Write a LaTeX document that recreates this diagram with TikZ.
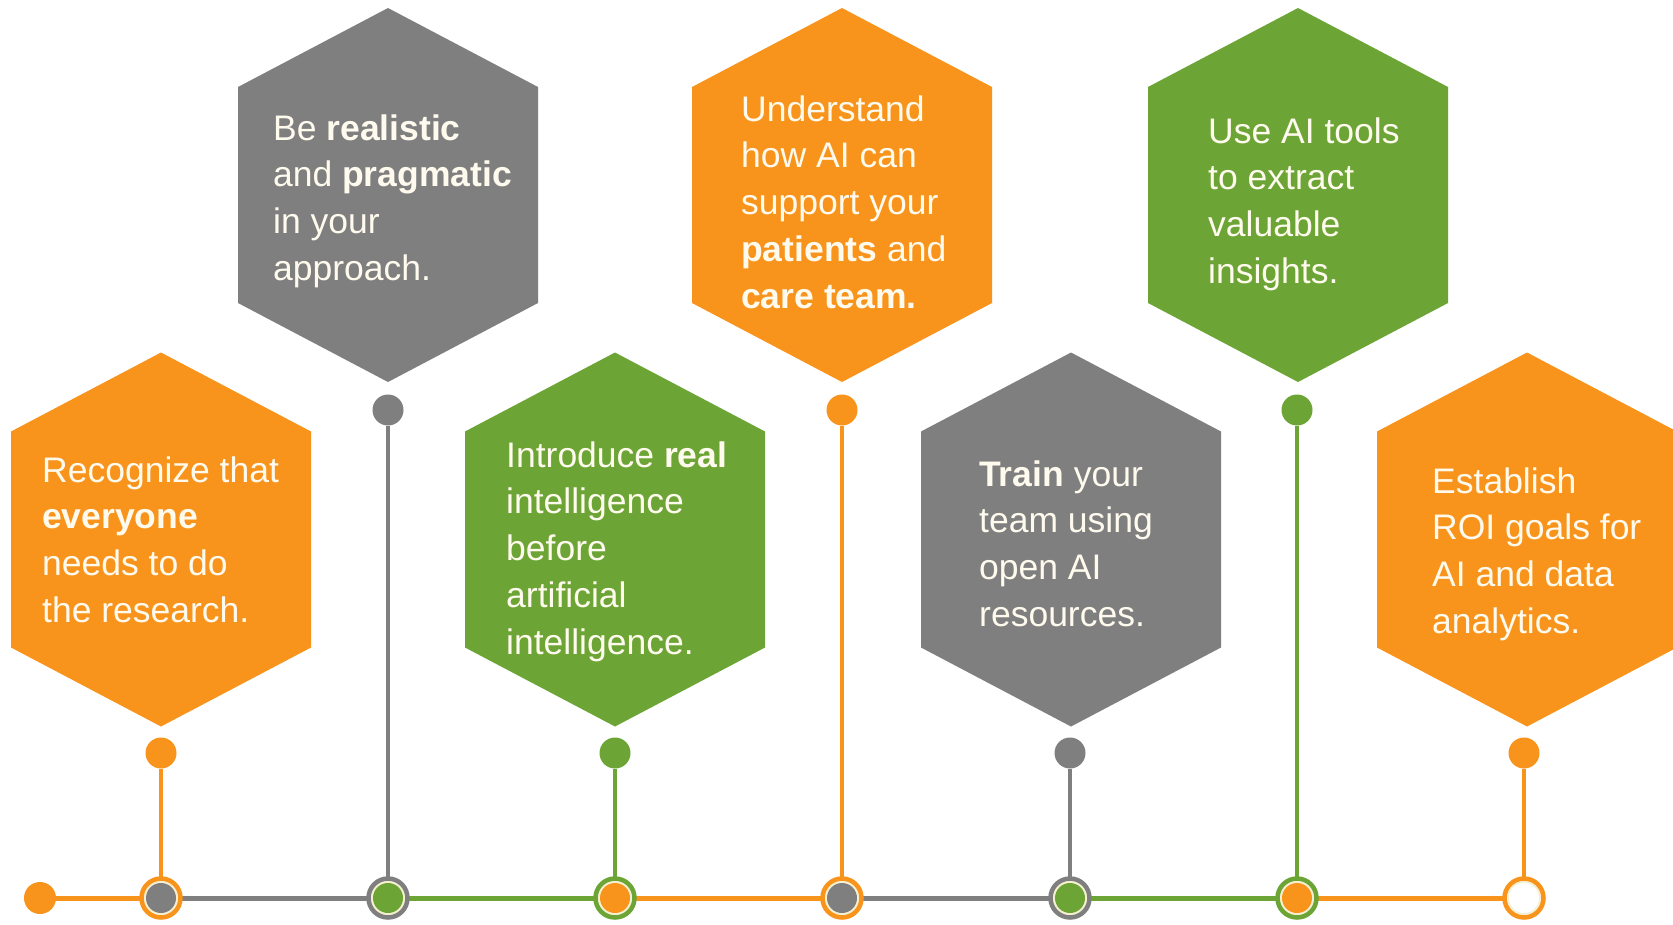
\documentclass[tikz,border=0pt]{standalone}
\usepackage{fontspec}
\setmainfont{Liberation Sans}

\definecolor{hexorange}{HTML}{F8941C}
\definecolor{hexgreen}{HTML}{6CA535}
\definecolor{hexgray}{HTML}{7F7F7F}
\definecolor{ringcream}{HTML}{F6F0D2}
\definecolor{hextextc}{HTML}{FFFAEE}

% fixed-height strut so every text block hangs from its first baseline
\newcommand\firststrut{\rule{0pt}{30pt}}

% stretched hexagon centred on a named coordinate
\newcommand\hexagonat[2]{%
  \fill[#2] ([shift={(0,-187)}]#1) -- ([shift={(150,-108)}]#1) --
    ([shift={(150,108)}]#1) -- ([shift={(0,187)}]#1) --
    ([shift={(-150,108)}]#1) -- ([shift={(-150,-108)}]#1) -- cycle;}

\begin{document}
\begin{tikzpicture}[x=1pt,y=-1pt,
  hextext/.style={anchor=north west, inner sep=0pt, text=hextextc, align=left,
    font=\fontsize{35.5}{46.7}\selectfont},
  pindot/.style={circle, inner sep=0pt, minimum size=31pt, fill=#1},
  startdot/.style={circle, inner sep=0pt, minimum size=32pt, fill=#1},
  ringdot/.style 2 args={circle, inner sep=0pt, minimum size=39pt, draw=#1,
    line width=4.5pt, fill=ringcream,
    path picture={\fill[#2] (path picture bounding box.center) circle[radius=15pt];}},
  stem/.style={line width=3.5pt, #1},
  track/.style={line width=5pt, #1}]

\useasboundingbox (0,0) rectangle (1673,924);
\fill[white] (0,0) rectangle (1673,924);

% hexagon centres
\coordinate (h1) at (161,539.5);
\coordinate (h2) at (388,195);
\coordinate (h3) at (615,539.5);
\coordinate (h4) at (842,195);
\coordinate (h5) at (1071,539.5);
\coordinate (h6) at (1298,195);
\coordinate (h7) at (1527,539.5);

\hexagonat{h1}{hexorange}
\hexagonat{h2}{hexgray}
\hexagonat{h3}{hexgreen}
\hexagonat{h4}{hexorange}
\hexagonat{h5}{hexgray}
\hexagonat{h6}{hexgreen}
\hexagonat{h7}{hexorange}

% texts
\node[hextext] (t1) at (42,452) {\firststrut Recognize that\\\textbf{everyone}\\needs to do\\the research.};
\node[hextext] (t2) at (273,110) {\firststrut Be \textbf{realistic}\\and \textbf{pragmatic}\\in your\\approach.};
\node[hextext] (t3) at (506,437) {\firststrut Introduce \textbf{real}\\intelligence\\before\\artificial\\intelligence.};
\node[hextext] (t4) at (741,91) {\firststrut Understand\\how AI can\\support your\\\textbf{patients} and\\\textbf{care team.}};
\node[hextext] (t5) at (979,456) {\firststrut \textbf{Train} your\\team using\\open AI\\resources.};
\node[hextext] (t6) at (1208,113) {\firststrut Use AI tools\\to extract\\valuable\\insights.};
\node[hextext] (t7) at (1432,463) {\firststrut Establish\\ROI goals for\\AI and data\\analytics.};

% pins under the hexagons
\node[pindot=hexorange] (d1) at (161,753) {};
\node[pindot=hexgray]   (d2) at (388,410) {};
\node[pindot=hexgreen]  (d3) at (615,753) {};
\node[pindot=hexorange] (d4) at (842,410) {};
\node[pindot=hexgray]   (d5) at (1070,753) {};
\node[pindot=hexgreen]  (d6) at (1297,410) {};
\node[pindot=hexorange] (d7) at (1524,753) {};

% timeline stops
\coordinate (s0) at (40,898);
\coordinate (s1) at (161,898);
\coordinate (s2) at (388,898);
\coordinate (s3) at (615,898);
\coordinate (s4) at (842,898);
\coordinate (s5) at (1070,898);
\coordinate (s6) at (1297,898);
\coordinate (s7) at (1524,898);

% timeline segments
\draw[track=hexorange] (s0) -- (s1);
\draw[track=hexgray]   (s1) -- (s2);
\draw[track=hexgreen]  (s2) -- (s3);
\draw[track=hexorange] (s3) -- (s4);
\draw[track=hexgray]   (s4) -- (s5);
\draw[track=hexgreen]  (s5) -- (s6);
\draw[track=hexorange] (s6) -- (s7);

% stems from the pins down to the timeline
\draw[stem=hexorange] (d1) -- (s1);
\draw[stem=hexgray]   (d2) -- (s2);
\draw[stem=hexgreen]  (d3) -- (s3);
\draw[stem=hexorange] (d4) -- (s4);
\draw[stem=hexgray]   (d5) -- (s5);
\draw[stem=hexgreen]  (d6) -- (s6);
\draw[stem=hexorange] (d7) -- (s7);

% stop markers
\node[startdot=hexorange] (m0) at (s0) {};
\node[ringdot={hexorange}{hexgray}]  (m1) at (s1) {};
\node[ringdot={hexgray}{hexgreen}]   (m2) at (s2) {};
\node[ringdot={hexgreen}{hexorange}] (m3) at (s3) {};
\node[ringdot={hexorange}{hexgray}]  (m4) at (s4) {};
\node[ringdot={hexgray}{hexgreen}]   (m5) at (s5) {};
\node[ringdot={hexgreen}{hexorange}] (m6) at (s6) {};
\node[ringdot={hexorange}{white}]    (m7) at (s7) {};
\end{tikzpicture}
\end{document}
